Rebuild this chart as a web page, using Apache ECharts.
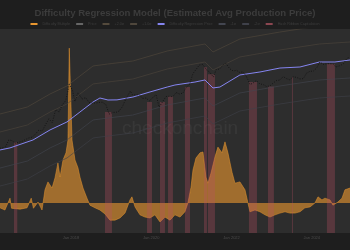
<!DOCTYPE html>
<html><head><meta charset="utf-8">
<script src="https://cdn.jsdelivr.net/npm/echarts@6/dist/echarts.min.js"></script>
<style>html,body{margin:0;padding:0;background:#1e1e1e}#c{width:350px;height:250px}</style>
</head><body><div id="c"></div>
<script>
const titleText = 'Difficulty Regression Model (Estimated Avg Production Price)';
const legendNames = ['Difficulty Multiple','Price','+2.0σ','+1.0σ','Difficulty Regression Price','-1σ','-2σ','Hash Ribbon Capitulation'];
const tickDates = ['2018-01-01','2020-01-01','2022-01-01','2024-01-01'];
const tickLabels = ['Jan 2018','Jan 2020','Jan 2022','Jan 2024'];

const priceDates = ['2016-03-27','2016-04-15','2016-05-15','2016-06-15','2016-07-15','2016-08-15','2016-09-15','2016-10-15','2016-11-15','2016-12-15',
'2017-01-15','2017-02-15','2017-03-15','2017-04-15','2017-05-15','2017-06-15','2017-07-15','2017-08-15','2017-09-15','2017-10-15','2017-11-15','2017-12-17',
'2018-01-15','2018-02-06','2018-03-05','2018-04-15','2018-05-15','2018-06-15','2018-07-15','2018-08-15','2018-09-15','2018-10-15','2018-11-15','2018-12-15',
'2019-01-15','2019-02-15','2019-03-15','2019-04-15','2019-05-15','2019-06-26','2019-07-15','2019-08-15','2019-09-15','2019-10-15','2019-11-15','2019-12-15',
'2020-01-15','2020-02-15','2020-03-13','2020-04-15','2020-05-15','2020-06-15','2020-07-15','2020-08-15','2020-09-15','2020-10-15','2020-11-15','2020-12-15',
'2021-01-15','2021-02-15','2021-03-13','2021-04-14','2021-05-15','2021-06-15','2021-07-20','2021-08-15','2021-09-15','2021-10-15','2021-11-10','2021-12-15',
'2022-01-15','2022-02-15','2022-03-15','2022-04-15','2022-05-15','2022-06-18','2022-07-15','2022-08-15','2022-09-15','2022-10-15','2022-11-15','2022-12-15',
'2023-01-15','2023-02-15','2023-03-15','2023-04-15','2023-05-15','2023-06-15','2023-07-15','2023-08-15','2023-09-15','2023-10-15','2023-11-15','2023-12-15',
'2024-01-15','2024-02-15','2024-03-14','2024-04-15','2024-05-15','2024-06-15','2024-07-15','2024-08-05','2024-09-15','2024-10-15','2024-11-15','2024-12-10'];
const priceValues = [420,430,455,690,665,570,608,640,712,780,
820,1010,1240,1180,1720,2450,1950,4200,3700,5700,7300,19300,
13600,6900,11500,8000,8700,6500,6300,6300,6500,6600,5700,3250,
3600,3600,3900,5100,8000,12900,10200,10300,10300,8300,8500,7100,
8800,10300,4900,6900,9300,9400,9200,11800,10800,11400,16000,19400,
36800,48000,61000,63500,46500,40000,29800,47000,48100,61500,68000,48900,
43000,44500,39300,40500,31300,19000,20800,24300,19700,19100,16900,17400,
20900,24300,24800,30400,27200,25100,30300,29200,26600,27100,37900,42000,
42500,51800,73000,63400,66200,66000,64800,54000,59200,66000,91000,97000];

const regDates = ['2016-03-27','2016-06-26','2017-01-21','2017-06-25','2017-11-26','2018-03-24','2018-07-21','2018-09-22','2018-12-04','2019-02-24','2019-07-19','2019-12-21','2020-05-26','2020-08-04','2021-02-02','2021-05-04','2021-07-16','2021-09-17','2022-03-18','2022-09-16','2023-03-17','2023-09-15','2024-03-10','2024-07-29','2024-12-13'];
const regValues = [380,430,690,1260,2030,3680,6700,8500,7550,7600,9000,12200,16400,18500,22100,25000,15500,16400,33700,40300,51100,54300,73200,73200,82600];

const bandDates = ['2016-03-27','2016-12-01','2017-06-25','2017-11-26','2018-07-21','2018-12-04','2019-07-19','2020-05-26','2021-05-04','2021-07-16','2022-03-18','2023-03-17','2024-03-10','2024-12-13'];
const bandP2 = [3266,4966,10810,17460,57700,65000,77800,141500,215000,133400,290000,440000,631000,711000];
const bandP1 = [1114,1694,3684,5940,19700,22150,26500,48200,73300,45400,98900,150300,215000,242300];
const bandM1 = [129,196,428,690,2282,2570,3076,5598,8510,5270,11480,17460,24960,28130];
const bandM2 = [44,67,146,235,778,877,1050,1910,2900,1800,3910,5940,8510,9590];

const multDates = ['2016-03-27','2016-05-11','2016-06-26','2016-07-10','2016-07-23','2016-09-25','2016-11-28','2017-01-05','2017-01-25','2017-02-08','2017-03-08','2017-04-13','2017-05-10','2017-06-06','2017-07-13','2017-08-09','2017-09-05','2017-09-24','2017-10-21','2017-11-17','2017-12-05','2017-12-17','2018-01-11','2018-02-07','2018-03-06','2018-03-24','2018-04-21','2018-05-09','2018-05-27','2018-06-23','2018-08-08','2018-09-22','2018-11-07','2018-12-22','2019-02-06','2019-03-23','2019-05-08','2019-06-22','2019-07-10','2019-08-07','2019-09-21','2019-11-05','2019-12-21','2020-02-04','2020-03-21','2020-05-05','2020-06-20','2020-08-04','2020-09-19','2020-11-03','2020-11-30','2020-12-28','2021-01-15','2021-02-11','2021-03-20','2021-04-16','2021-05-13','2021-05-31','2021-06-28','2021-08-03','2021-08-30','2021-10-06','2021-11-02','2021-11-29','2022-01-05','2022-02-01','2022-03-18','2022-05-03','2022-05-30','2022-06-17','2022-08-02','2022-09-16','2022-11-01','2022-12-16','2023-01-31','2023-03-17','2023-05-02','2023-06-16','2023-07-31','2023-09-15','2023-10-30','2023-12-15','2024-01-29','2024-02-26','2024-04-02','2024-04-29','2024-06-14','2024-07-11','2024-08-25','2024-10-01','2024-10-28','2024-12-13'];
const multValues = [0.89,0.84,1.11,0.88,0.88,0.86,0.89,1.11,0.88,0.89,1.02,0.84,1.30,1.48,1.34,1.57,1.91,1.59,1.98,2.14,2.43,4.52,2.43,1.98,1.80,1.59,1.34,1.30,1.11,0.95,0.89,0.84,0.75,0.61,0.61,0.66,0.77,1.07,1.14,0.91,0.73,0.68,0.66,0.73,0.57,0.68,0.61,0.73,0.68,0.80,1.00,1.36,1.75,2.02,2.14,2.16,1.59,1.45,1.68,2.05,2.27,2.14,2.39,2.14,1.70,1.45,1.48,1.30,1.00,0.80,0.84,0.80,0.73,0.68,0.73,0.77,0.80,0.77,0.77,0.80,0.89,0.91,1.00,1.14,1.07,1.11,1.07,0.95,1.02,1.11,1.30,1.34];

const capStart = ['2016-08-01','2018-11-07','2019-11-24','2020-03-21','2020-06-02','2020-11-03','2021-04-25','2021-05-31','2022-06-08','2022-11-28','2023-07-04','2024-05-17'];
const capEnd   = ['2016-08-31','2019-01-09','2020-01-08','2020-05-05','2020-07-17','2020-12-19','2021-05-22','2021-08-03','2022-08-20','2023-01-21','2023-07-13','2024-07-29'];
const capTop   = [600,3700,6700,6700,9300,16400,54000,35000,22000,16800,30000,65000];

const zip = (d, v) => d.map((x, i) => [x, v[i]]);
const ts = s => new Date(s + 'T00:00:00Z').getTime();
const tickTs = tickDates.map(ts);

const chart = echarts.init(document.getElementById('c'), null, {renderer: 'canvas'});
const FONT = 'Liberation Sans, Arial, sans-serif';
const bandColors = ['#544a3c', '#4f473c', '#434650', '#3f414a'];

chart.setOption({
  backgroundColor: '#1e1e1e',
  animation: false,
  title: {text: titleText, left: 'center', top: 3, textStyle: {color: '#3c3c3c', fontSize: 9.6, fontWeight: 'bold', fontFamily: FONT}},
  legend: {
    top: 22, left: 'center', itemWidth: 7, itemHeight: 2, itemGap: 6, padding: 0,
    textStyle: {color: '#3e3e3e', fontSize: 3.7, fontFamily: FONT},
    data: legendNames.map((n, i) => ({name: n, icon: (i === 0 || i === 7) ? 'rect' : 'roundRect'}))
  },
  graphic: [{type: 'text', left: 122, top: 119, silent: true, z: 1,
    style: {text: 'checkonchain', fill: 'rgba(255,255,255,0.05)', font: '19px ' + FONT}}],
  grid: {left: 0, right: 0, top: 29, bottom: 17, show: true, backgroundColor: '#2d2d2d', borderWidth: 0},
  xAxis: {
    type: 'value', min: ts('2016-03-27'), max: ts('2024-12-13'), scale: true,
    axisLine: {show: false}, axisTick: {show: false}, splitLine: {show: false},
    axisLabel: {customValues: tickTs, color: '#4c4c4c', fontSize: 4, fontFamily: FONT, margin: 3,
      formatter: v => { const i = tickTs.indexOf(v); return i >= 0 ? tickLabels[i] : ''; }}
  },
  yAxis: [
    {type: 'log', logBase: 10, min: 2.65, max: 527000, show: false, splitLine: {show: false}},
    {type: 'value', min: 0.318, max: 4.955, show: false, splitLine: {show: false}}
  ],
  series: [
    {name: legendNames[0], type: 'line', yAxisIndex: 1, data: zip(multDates.map(ts), multValues), symbol: 'none',
      lineStyle: {width: 0.5, color: '#e8962f'}, itemStyle: {color: '#e8962f'},
      areaStyle: {origin: 1, color: 'rgba(232,150,47,0.88)'}, z: 2},
    {name: legendNames[7], type: 'custom', yAxisIndex: 0, z: 3,
      itemStyle: {color: '#8a4650'},
      encode: {x: [0, 1], y: 2},
      data: capStart.map((s, i) => [ts(s), ts(capEnd[i]), capTop[i]]),
      renderItem: function (params, api) {
        const a = api.coord([api.value(0), api.value(2)]);
        const b = api.coord([api.value(1), api.value(2)]);
        const bottom = params.coordSys.y + params.coordSys.height;
        return {type: 'rect', shape: {x: a[0], y: a[1], width: Math.max(1, b[0] - a[0]), height: bottom - a[1]},
          style: {fill: 'rgba(190,80,100,0.30)'}};
      }},
    {name: legendNames[2], type: 'line', data: zip(bandDates.map(ts), bandP2), symbol: 'none', lineStyle: {width: 0.6, color: bandColors[0]}, itemStyle: {color: bandColors[0]}, z: 4},
    {name: legendNames[3], type: 'line', data: zip(bandDates.map(ts), bandP1), symbol: 'none', lineStyle: {width: 0.6, color: bandColors[1]}, itemStyle: {color: bandColors[1]}, z: 4},
    {name: legendNames[5], type: 'line', data: zip(bandDates.map(ts), bandM1), symbol: 'none', lineStyle: {width: 0.6, color: bandColors[2]}, itemStyle: {color: bandColors[2]}, z: 4},
    {name: legendNames[6], type: 'line', data: zip(bandDates.map(ts), bandM2), symbol: 'none', lineStyle: {width: 0.6, color: bandColors[3]}, itemStyle: {color: bandColors[3]}, z: 4},
    {name: legendNames[4], type: 'line', data: zip(regDates.map(ts), regValues), symbol: 'none', lineStyle: {width: 1, color: '#8585f0'}, itemStyle: {color: '#8585f0'}, z: 5},
    {name: legendNames[1], type: 'line', data: zip(priceDates.map(ts), priceValues), symbol: 'none', lineStyle: {width: 0.9, color: '#141414', type: [1, 1.5]}, itemStyle: {color: '#666'}, z: 6}
  ]
});
</script></body></html>
